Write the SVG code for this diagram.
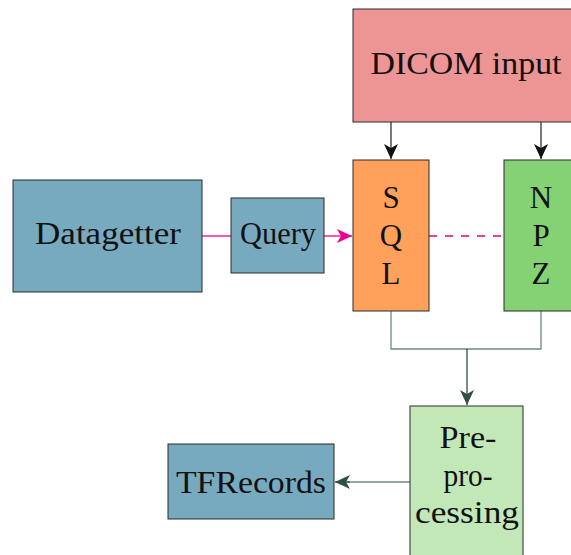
<svg xmlns="http://www.w3.org/2000/svg" width="571" height="555" viewBox="0 0 571 555">
  <style>
    .box { stroke: #2b2b2b; stroke-width: 1; }
    .blue { fill: #77aabf; }
    .red { fill: #ed9594; }
    .orange { fill: #ffa15a; }
    .green { fill: #84d273; }
    .pale { fill: #c2e8b8; }
    text { font-family: "Liberation Serif", "Times New Roman", serif; font-size: 31px; fill: #111; text-anchor: middle; }
    .pink { stroke: #ec008c; stroke-width: 1.3; fill: none; }
    .black { stroke: #333; stroke-width: 1.3; fill: none; }
    .merge { stroke: #6e8b7d; stroke-width: 1.3; fill: none; }
    .dark { stroke: #2f4f3f; stroke-width: 1.3; fill: none; }
  </style>
  <defs>
    <marker id="ah-black" markerUnits="userSpaceOnUse" markerWidth="18" markerHeight="16" refX="15" refY="8" orient="auto">
      <path d="M0,1 L15,8 L0,15 L4,8 z" fill="#111"/>
    </marker>
    <marker id="ah-pink" markerUnits="userSpaceOnUse" markerWidth="18" markerHeight="16" refX="15" refY="8" orient="auto">
      <path d="M0,1 L15,8 L0,15 L4,8 z" fill="#ec008c"/>
    </marker>
    <marker id="ah-green" markerUnits="userSpaceOnUse" markerWidth="18" markerHeight="16" refX="15" refY="8" orient="auto">
      <path d="M0,1 L15,8 L0,15 L4,8 z" fill="#2f4f3f"/>
    </marker>
  </defs>

  <g id="connectors">
    <line class="pink" x1="202" y1="236" x2="231" y2="236"/>
    <line class="pink" x1="324" y1="236" x2="352" y2="236" marker-end="url(#ah-pink)"/>
    <line class="pink" x1="429" y1="236" x2="504" y2="236" stroke-dasharray="8,8"/>
    <line class="black" x1="391" y1="122" x2="391" y2="159" marker-end="url(#ah-black)"/>
    <line class="black" x1="541" y1="122" x2="541" y2="159" marker-end="url(#ah-black)"/>
    <polyline class="merge" points="391,311 391,349 541,349 541,311"/>
    <line class="dark" x1="467" y1="349" x2="467" y2="405" marker-end="url(#ah-green)"/>
    <line class="merge" x1="410" y1="482" x2="336" y2="482"/>
    <line class="dark" x1="350" y1="482" x2="335" y2="482" marker-end="url(#ah-green)"/>
  </g>

  <g id="dicom">
    <rect class="box red" x="353" y="9" width="225" height="113"/>
    <text x="466" y="74" textLength="191" lengthAdjust="spacingAndGlyphs">DICOM input</text>
  </g>
  <g id="sql">
    <rect class="box orange" x="353" y="160" width="76" height="151"/>
    <text x="391" y="208">S</text>
    <text x="391" y="246">Q</text>
    <text x="391" y="284">L</text>
  </g>
  <g id="npz">
    <rect class="box green" x="504" y="160" width="76" height="151"/>
    <text x="541" y="208">N</text>
    <text x="541" y="246">P</text>
    <text x="541" y="284">Z</text>
  </g>
  <g id="datagetter">
    <rect class="box blue" x="13" y="180" width="189" height="112"/>
    <text x="108" y="244" textLength="146" lengthAdjust="spacingAndGlyphs">Datagetter</text>
  </g>
  <g id="query">
    <rect class="box blue" x="231" y="198" width="93" height="75"/>
    <text x="278" y="244" textLength="76" lengthAdjust="spacingAndGlyphs">Query</text>
  </g>
  <g id="preprocessing">
    <rect class="box pale" x="410" y="406" width="113" height="160"/>
    <text x="468" y="448" textLength="57" lengthAdjust="spacingAndGlyphs">Pre-</text>
    <text x="468" y="486" textLength="49" lengthAdjust="spacingAndGlyphs">pro-</text>
    <text x="467" y="523" textLength="104" lengthAdjust="spacingAndGlyphs">cessing</text>
  </g>
  <g id="tfrecords">
    <rect class="box blue" x="168" y="444" width="166" height="75"/>
    <text x="251" y="493" textLength="150" lengthAdjust="spacingAndGlyphs">TFRecords</text>
  </g>
</svg>
